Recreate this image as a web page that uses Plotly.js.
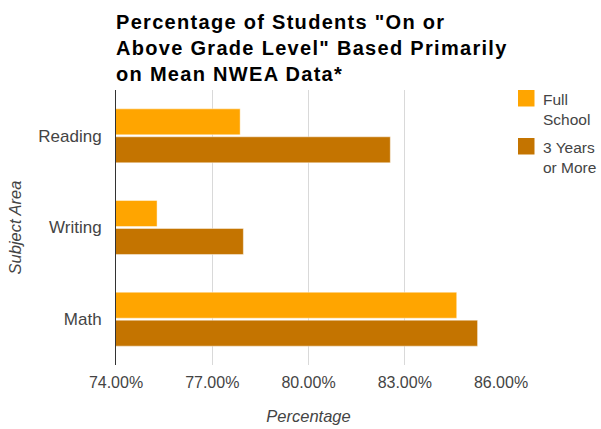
<!DOCTYPE html>
<html>
<head>
<meta charset="utf-8">
<script src="https://cdn.plot.ly/plotly-3.0.1.min.js"></script>
<style>
  html, body { margin: 0; padding: 0; background: #fff; }
  #chart { width: 601px; height: 429px; }
  #chart .gtitle { letter-spacing: 1.3px; }
</style>
</head>
<body>
<div id="chart"></div>
<script>
// Subject areas, top to bottom
const subjects = ['Reading', 'Writing', 'Math'];

// Series names and values (percent of students on or above grade level)
const seriesNames = ['Full<br>School', '3 Years<br>or More'];
const fullSchool = [77.87, 75.28, 84.62];
const threeYearsOrMore = [82.55, 77.97, 85.27];
const seriesColors = ['#ffa500', '#c47400'];

// Percentage axis ticks
const tickValues = [74, 77, 80, 83, 86];
const tickLabels = tickValues.map(v => v.toFixed(2) + '%');

const FONT = 'Arial, "Liberation Sans", sans-serif';
const GRAY = '#444';

const traces = [fullSchool, threeYearsOrMore].map((vals, i) => ({
  type: 'bar',
  orientation: 'h',
  x: vals,
  y: subjects,
  base: 0,
  name: seriesNames[i],
  marker: { color: seriesColors[i], line: { color: 'rgba(255,255,255,0.45)', width: 1 } },
  showlegend: false,
  hoverinfo: 'x+y'
}));

// Legend: swatches and labels placed to the right of the plot area
const legendShapes = [];
const legendNotes = [];
seriesColors.forEach((c, i) => {
  const top = 90 + i * 48;
  legendShapes.push({
    type: 'rect', xref: 'paper', yref: 'paper',
    x0: (518 - 116) / 385, x1: (534.5 - 116) / 385,
    y0: 1 - (top + 16.5 - 90) / 275, y1: 1 - (top - 90) / 275,
    fillcolor: c, line: { width: 0 }
  });
  legendNotes.push({
    xref: 'paper', yref: 'paper',
    x: (541 - 116) / 385, y: 1 - (top - 1 - 90) / 275,
    xanchor: 'left', yanchor: 'top', align: 'left',
    showarrow: false,
    text: seriesNames[i],
    font: { family: FONT, size: 15.5, color: GRAY }
  });
});

const layout = {
  width: 601,
  height: 429,
  margin: { l: 116, r: 100, t: 90, b: 64, pad: 0 },
  paper_bgcolor: '#fff',
  plot_bgcolor: '#fff',
  font: { family: FONT, color: GRAY },
  title: {
    text: 'Percentage of Students "On or<br>Above Grade Level" Based Primarily<br>on Mean NWEA Data*',
    font: { family: FONT, size: 20, color: '#000', weight: 'bold' },
    x: 116 / 601, xanchor: 'left', xref: 'container',
    y: 1 - 29 / 429, yanchor: 'top', yref: 'container'
  },
  barmode: 'group',
  bargap: 0.39,
  bargroupgap: 0.07,
  xaxis: {
    range: [74, 86],
    tickvals: tickValues,
    ticktext: tickLabels,
    showgrid: true,
    gridcolor: '#d9d9d9',
    gridwidth: 1,
    zeroline: false,
    showline: false,
    ticks: '',
    ticklabelstandoff: 6,
    tickfont: { family: FONT, size: 16, color: GRAY },
    title: {
      text: 'Percentage',
      font: { family: FONT, size: 16.5, color: GRAY, style: 'italic' },
      standoff: 20
    },
    fixedrange: true
  },
  yaxis: {
    type: 'category',
    autorange: 'reversed',
    showgrid: false,
    zeroline: false,
    showline: true,
    linecolor: '#333',
    linewidth: 1,
    ticks: '',
    ticklabelstandoff: 10,
    tickfont: { family: FONT, size: 17, color: GRAY },
    title: {
      text: 'Subject Area',
      font: { family: FONT, size: 16.5, color: GRAY, style: 'italic' },
      standoff: 12
    },
    fixedrange: true
  },
  shapes: legendShapes,
  annotations: legendNotes,
  showlegend: false
};

Plotly.newPlot('chart', traces, layout, { displayModeBar: false, staticPlot: true });
</script>
</body>
</html>
